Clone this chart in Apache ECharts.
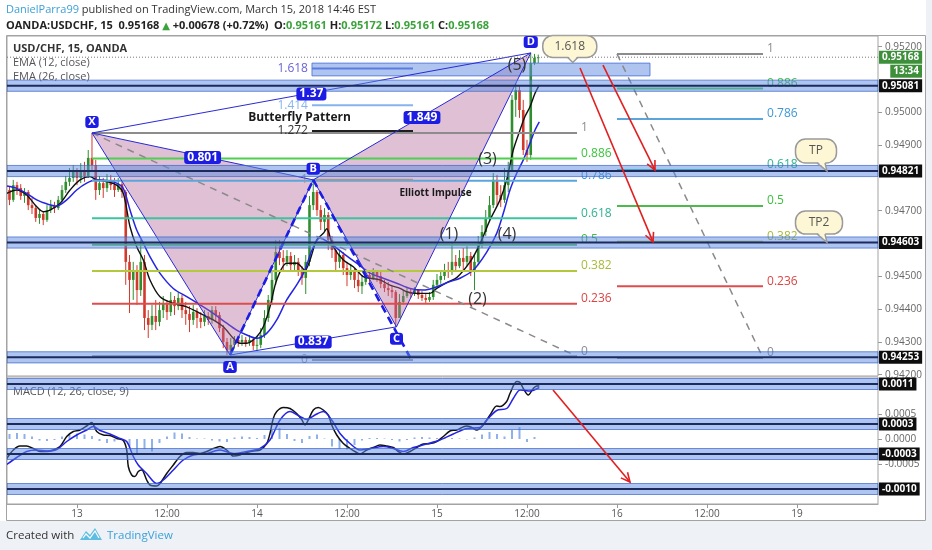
<!DOCTYPE html>
<html><head><meta charset="utf-8">
<script src="https://cdn.jsdelivr.net/npm/echarts@6/dist/echarts.min.js"></script>
<style>html,body{margin:0;padding:0;background:#fff;}#c{width:932px;height:550px;}</style>
</head><body><div id="c"></div>
<script>
// ================= DATA =================
// time unit: hours from 13 Mar 00:00 (weekend collapsed); 30-min bars
const barStartHour = -9;
const barStepHours = 0.5;
const firstOpen = 0.94763;
const closes = [0.94733,0.94778,0.94769,0.94745,0.94757,0.94717,0.94708,0.94678,0.94690,0.94672,
0.94702,0.94714,0.94708,0.94733,0.94763,0.94788,0.94800,0.94818,0.94800,0.94824,
0.94806,0.94861,0.94839,0.94763,0.94784,0.94769,0.94794,0.94778,0.94763,0.94781,
0.94757,0.94544,0.94489,0.94519,0.94458,0.94544,0.94373,0.94352,0.94379,0.94361,
0.94397,0.94416,0.94391,0.94428,0.94409,0.94434,0.94397,0.94385,0.94367,0.94391,
0.94373,0.94361,0.94379,0.94367,0.94397,0.94382,0.94342,0.94300,0.94275,0.94291,
0.94306,0.94300,0.94306,0.94297,0.94306,0.94288,0.94291,0.94321,0.94373,0.94428,
0.94489,0.94574,0.94556,0.94544,0.94562,0.94534,0.94544,0.94519,0.94495,0.94544,
0.94717,0.94757,0.94702,0.94666,0.94687,0.94611,0.94580,0.94544,0.94565,0.94525,
0.94504,0.94519,0.94489,0.94470,0.94483,0.94504,0.94495,0.94513,0.94501,0.94477,
0.94464,0.94458,0.94452,0.94373,0.94422,0.94440,0.94452,0.94446,0.94458,0.94443,
0.94434,0.94428,0.94437,0.94474,0.94489,0.94501,0.94519,0.94513,0.94544,0.94531,
0.94556,0.94544,0.94562,0.94519,0.94544,0.94595,0.94635,0.94678,0.94717,0.94794,
0.94748,0.94733,0.94778,0.94824,0.95038,0.95068,0.95007,0.94885,0.94870,0.95150,
0.95166,0.95168];
const highs = [0.94775,0.94794,0.94788,0.94781,0.94769,0.94763,0.94739,0.94717,0.94702,0.94696,
0.94717,0.94733,0.94727,0.94745,0.94778,0.94806,0.94830,0.94839,0.94830,0.94845,
0.94849,0.94885,0.94937,0.94855,0.94806,0.94800,0.94812,0.94809,0.94800,0.94800,
0.94788,0.94763,0.94565,0.94544,0.94534,0.94611,0.94565,0.94397,0.94413,0.94428,
0.94422,0.94440,0.94428,0.94452,0.94440,0.94452,0.94443,0.94422,0.94409,0.94413,
0.94403,0.94391,0.94397,0.94391,0.94409,0.94409,0.94391,0.94352,0.94312,0.94312,
0.94318,0.94315,0.94321,0.94315,0.94321,0.94312,0.94318,0.94342,0.94397,0.94443,
0.94519,0.94611,0.94611,0.94580,0.94580,0.94574,0.94565,0.94556,0.94531,0.94565,
0.94745,0.94794,0.94763,0.94717,0.94708,0.94696,0.94623,0.94586,0.94580,0.94574,
0.94544,0.94538,0.94525,0.94510,0.94504,0.94513,0.94519,0.94525,0.94519,0.94513,
0.94489,0.94483,0.94470,0.94458,0.94446,0.94458,0.94464,0.94464,0.94467,0.94461,
0.94455,0.94449,0.94452,0.94489,0.94507,0.94519,0.94538,0.94544,0.94605,0.94565,
0.94580,0.94586,0.94592,0.94574,0.94565,0.94623,0.94656,0.94702,0.94745,0.94815,
0.94809,0.94778,0.94830,0.94849,0.95053,0.95089,0.95083,0.95038,0.94916,0.95181,
0.95178,0.95176];
const lows = [0.94717,0.94727,0.94748,0.94733,0.94724,0.94702,0.94690,0.94666,0.94660,0.94656,
0.94666,0.94693,0.94693,0.94702,0.94727,0.94754,0.94775,0.94788,0.94778,0.94784,
0.94788,0.94800,0.94824,0.94733,0.94748,0.94739,0.94757,0.94763,0.94742,0.94757,
0.94739,0.94474,0.94388,0.94428,0.94413,0.94440,0.94336,0.94312,0.94336,0.94336,
0.94348,0.94373,0.94367,0.94379,0.94382,0.94397,0.94373,0.94352,0.94330,0.94352,
0.94342,0.94342,0.94348,0.94352,0.94355,0.94361,0.94330,0.94281,0.94260,0.94260,
0.94281,0.94285,0.94288,0.94285,0.94288,0.94275,0.94272,0.94281,0.94312,0.94361,
0.94413,0.94474,0.94534,0.94519,0.94531,0.94519,0.94519,0.94501,0.94474,0.94446,
0.94531,0.94702,0.94684,0.94641,0.94635,0.94580,0.94556,0.94519,0.94525,0.94504,
0.94470,0.94489,0.94464,0.94452,0.94446,0.94474,0.94480,0.94489,0.94483,0.94464,
0.94452,0.94440,0.94434,0.94345,0.94373,0.94413,0.94434,0.94434,0.94440,0.94431,
0.94425,0.94419,0.94422,0.94428,0.94464,0.94477,0.94489,0.94495,0.94504,0.94513,
0.94525,0.94519,0.94531,0.94501,0.94458,0.94534,0.94586,0.94623,0.94666,0.94708,
0.94717,0.94711,0.94724,0.94757,0.94818,0.94986,0.94983,0.94870,0.94849,0.94855,
0.95144,0.95150];

const ema12 = [[-9.37,0.94753],[-8.04,0.94763],[-6.71,0.94748],[-5.37,0.94712],[-4.49,0.94697],[-3.6,0.94702],
[-2.27,0.94722],[-0.93,0.94763],[0.4,0.94794],[1.73,0.94804],[2.63,0.94794],[3.96,0.94789],[5.29,0.94778],
[6.17,0.94753],[7.07,0.94651],[7.96,0.9459],[8.84,0.9455],[9.73,0.94489],[11.07,0.94438],[12.84,0.94418],
[14.63,0.94407],[16.4,0.94387],[18.17,0.94367],[19.51,0.94346],[20.84,0.94311],[21.73,0.94296],[22.63,0.94296],
[23.96,0.94316],[24.84,0.94346],[25.73,0.94407],[26.63,0.94489],[27.96,0.9454],[29.29,0.9454],[30.4,0.94519],
[31.07,0.9455],[31.96,0.94611],[32.84,0.94631],[33.29,0.94645],[34.17,0.9459],[35.51,0.9455],[36.84,0.94529],
[38.17,0.94499],[39.07,0.94494],[40.4,0.94489],[41.73,0.94473],[43.07,0.94463],[43.96,0.94453],[45.29,0.94448],
[47.07,0.94448],[47.96,0.94463],[49.29,0.94481],[50.63,0.94496],[52.4,0.94544],[53.73,0.94599],[55.07,0.94672],
[56.4,0.94733],[57.29,0.94794],[58.17,0.94885],[59.07,0.94946],[59.73,0.94987],[60.4,0.95017],[61.07,0.95058],[61.64,0.95083]];
const ema26 = [[-9.37,0.94775],[-8.04,0.94768],[-6.71,0.94753],[-5.37,0.94733],[-4.04,0.94721],[-2.71,0.94714],
[-1.37,0.94733],[-0.04,0.94763],[1.29,0.94784],[2.63,0.94794],[3.96,0.94792],[5.29,0.94784],[6.17,0.94768],
[7.07,0.94702],[7.96,0.94641],[8.84,0.94601],[9.73,0.9456],[11.07,0.94509],[12.84,0.94463],[14.63,0.94438],
[16.4,0.94413],[18.17,0.94387],[19.96,0.94357],[21.29,0.94336],[22.63,0.94321],[23.96,0.94311],[25.29,0.94326],
[26.63,0.94367],[27.96,0.94428],[29.29,0.94474],[30.4,0.94519],[31.33,0.9458],[32.4,0.94617],[33.73,0.94601],
[35.51,0.9457],[37.29,0.9454],[39.07,0.9451],[40.84,0.94494],[42.63,0.94479],[44.4,0.94463],[46.17,0.94458],
[47.96,0.94468],[49.73,0.94484],[51.07,0.94494],[52.84,0.94519],[54.63,0.94574],[55.96,0.94631],[56.84,0.94692],
[57.73,0.94763],[58.63,0.94814],[59.51,0.94855],[60.4,0.94906],[61.07,0.94946],[61.64,0.94971]];

const macdLine = [[-9.37,-0.00039],[-8.49,-0.00022],[-7.6,-0.00014],[-6.71,-0.00014],[-5.83,-0.00019],[-4.93,-0.00025],
[-4.04,-0.00025],[-3.16,-0.00022],[-2.27,-0.00015],[-1.37,0.00005],[-0.49,0.00015],[0.4,0.00018],[1.29,0.00026],
[1.96,0.00033],[2.63,0.00015],[3.51,0.00008],[4.4,0.00007],[5.29,0.00001],[6.17,-0.00003],[6.63,-0.00022],
[6.84,-0.00055],[7.29,-0.00072],[7.73,-0.00075],[8.17,-0.00065],[8.63,-0.00062],[9.29,-0.00082],[9.73,-0.00092],
[10.63,-0.00094],[11.07,-0.00089],[11.96,-0.00069],[12.84,-0.00052],[13.73,-0.00035],[14.63,-0.00027],[15.51,-0.00027],
[16.4,-0.00029],[17.29,-0.00025],[18.17,-0.00019],[19.07,-0.00015],[19.96,-0.00022],[20.84,-0.00034],[21.73,-0.00032],
[22.63,-0.00027],[23.51,-0.00024],[24.4,-0.00022],[25.29,-0.00009],[25.73,0.00011],[26.17,0.00041],[26.63,0.00055],
[27.51,0.00063],[28.4,0.00061],[29.29,0.00051],[29.96,0.00039],[30.4,0.00028],[30.84,0.00038],[31.51,0.00058],
[32.17,0.00063],[32.84,0.00058],[33.51,0.00048],[33.96,0.00028],[34.63,0.00008],[35.51,-0.00009],[36.4,-0.00019],
[37.29,-0.00027],[37.73,-0.0003],[38.63,-0.00022],[39.51,-0.00017],[40.4,-0.00012],[41.29,-0.00014],[42.17,-0.00017],
[42.84,-0.00025],[43.51,-0.0003],[44.4,-0.00025],[45.29,-0.00017],[46.17,-0.0001],[47.07,-0.00009],[47.96,-0.00005],
[48.84,0.00005],[49.73,0.00016],[50.63,0.00018],[51.96,0.00026],[52.63,0.00023],[53.29,0.00018],[54.17,0.00028],
[55.07,0.00048],[55.96,0.00066],[56.4,0.00065],[57.29,0.00075],[57.73,0.00091],[58.63,0.00115],[59.07,0.00113],
[59.51,0.00101],[60.17,0.00088],[60.84,0.00101],[61.29,0.00106],[61.64,0.00106]];
const signalLine = [[-9.37,-0.00051],[-8.04,-0.00037],[-6.71,-0.00025],[-5.37,-0.00022],[-4.04,-0.00024],[-2.71,-0.00021],
[-1.37,-0.00005],[-0.04,0.00008],[1.29,0.00018],[2.17,0.00025],[3.07,0.00017],[4.4,0.0001],[5.73,0.00001],[6.63,-0.00005],
[7.51,-0.00035],[8.17,-0.00052],[9.29,-0.00069],[10.63,-0.00089],[11.51,-0.00082],[12.84,-0.00062],[14.17,-0.00042],
[15.51,-0.00032],[17.29,-0.00029],[19.07,-0.00022],[20.84,-0.00029],[22.63,-0.00025],[24.4,-0.00019],[25.73,-0.00002],
[27.07,0.00038],[28.4,0.00055],[29.73,0.00045],[30.63,0.00039],[31.73,0.00048],[32.84,0.00055],[33.96,0.00038],
[35.07,0.00011],[36.4,-0.00009],[37.73,-0.00022],[39.07,-0.00019],[40.84,-0.00015],[42.17,-0.00019],[43.51,-0.00025],
[44.84,-0.00017],[46.63,-0.0001],[48.4,-0.00002],[50.17,0.0001],[51.96,0.00021],[53.73,0.00023],[54.63,0.00038],
[55.96,0.00057],[57.29,0.00061],[58.17,0.00081],[59.07,0.00098],[59.73,0.00097],[60.4,0.00096],[61.64,0.00103]];
const histStartHour = -9;   // hourly histogram bars
const histogram = [0.0001,0.00012,0.0001,0.00005,-0.00003,-0.00004,-0.00002,0.00005,0.00009,0.00011,
0.00009,0.00006,-0.00004,-0.00008,-0.00005,-0.00002,-0.00015,-0.0003,-0.0002,-0.00025,
-0.00008,0.00005,0.00013,0.00011,0.00004,0.00001,0.00001,-0.00003,-0.00005,-0.00006,
0.00003,0.00005,0.00004,0.00002,0.00008,0.00018,0.00022,0.0001,-0.00004,-0.00008,
0.00006,0.00009,0.00001,-0.00015,-0.0002,-0.00021,-0.00012,-0.00003,0.00002,0.00002,
0.00001,-0.00002,-0.00005,-0.00002,0.00003,0.00004,0.00003,0.00002,0.00002,0.00002,
0.00001,-0.00001,0.00003,0.00009,0.00014,0.0001,0.00005,0.00018,0.00024,-0.00006,0.00004];

const tickHours = [0,12,24,36,48,60,72,84,96];
const tickLabels = ['13','12:00','14','12:00','15','12:00','16','12:00','19'];
const priceTicks = [0.942,0.943,0.944,0.945,0.947,0.949,0.950,0.952];
const macdTicks = [-0.0005,0,0.0005];

const srLevels = [0.95081,0.94821,0.94603,0.94253];
const macdLevels = [0.0011,0.0003,-0.0003,-0.0010];

const lastBar = [0.95161,0.95172,0.95161,0.95168];   // O H L C
const changeText = '+0.00678 (+0.72%)';
const countdown = '13:34';

const patternNames = ['X','A','B','C','D'];
const patternHours = [2.0,20.4,31.5,42.6,60.5];
const patternPrices = [0.94937,0.94260,0.94794,0.94346,0.95181];
const ratioLegs = [[0,2],[1,3],[2,4],[0,4]];
const ratioTexts = ['0.801','0.837','1.849','1.37'];
const bcExtension = [44.6,0.94245];

const fibRatios = [1,0.886,0.786,0.618,0.5,0.382,0.236,0];
const fib1Hours = [2.0,66.67];   const fib1Prices = [0.94937,0.94256];   // ratio 1, ratio 0
const fib2Hours = [72,91.47];    const fib2Prices = [0.95178,0.94251];
const extRatios = [1.618,1.414,1.272,1,0];
const extHours = [31.33,44.8];   const extPrices = [0.94794,0.94245];
const extZone = [31.33,0.95150,76.4,0.95111];

const waveTexts = ['(1)','(2)','(3)','(4)','(5)'];
const waveHours = [49.6,53.4,54.73,57.33,58.67];
const wavePrices = [0.94629,0.94428,0.94856,0.94627,0.95143];
const noteTexts = ['Butterfly Pattern','Elliott Impulse'];
const noteHours = [29.67,47.8];
const notePrices = [0.94985,0.94754];

const arrowsMain = [[67.07,0.95135,76.8,0.94605],[70.13,0.95144,77.07,0.94824]];
const arrowsMacd = [[63.47,0.00098,73.73,-0.00086]];

const calloutTexts = ['1.618','TP','TP2'];
const calloutHours = [66.1,100,100];
const calloutPrices = [0.95152,0.94821,0.94603];

// ================= LAYOUT / STYLE =================
const X_MIN = -9.333, X_MAX = 106.8;
const Y_MIN = 0.941961, Y_MAX = 0.952326;
const M_MIN = -0.0013, M_MAX = 0.00124;
const FONT = 'Open Sans, DejaVu Sans, sans-serif';
const BLUE = '#1c1ce4';
const UP = '#2f8f2f', DOWN = '#d2392b';

const candleData = closes.map((c,i)=>{
  const o = i===0 ? firstOpen : closes[i-1];
  return [barStartHour + i*barStepHours, o, c, Math.min(lows[i],o,c), Math.max(highs[i],o,c)];
});

function custom(xi, yi, z, data, encode, renderItem){
  return {type:'custom', xAxisIndex:xi, yAxisIndex:yi, z, data, encode, renderItem, silent:true, clip:false, animation:false};
}
function P(api,a,b){ return api.coord([a,b]); }
function segRender(style){
  return (p,api)=>{ const a=P(api,api.value(0),api.value(1)), b=P(api,api.value(2),api.value(3));
    return {type:'line', shape:{x1:a[0],y1:a[1],x2:b[0],y2:b[1]}, style}; };
}
const segEnc = {x:[0,2], y:[1,3]};

const fibColor = {'1':'#8c8c8c','0.886':'#4fcf4f','0.786':'#5aa6dc','0.618':'#3cc49e','0.5':'#4cbb4c','0.382':'#b3c83c','0.236':'#e04c4c','0':'#8c8c8c'};
const fibLabel = {'1':'#8c8c8c','0.886':'#3cc43c','0.786':'#3f97d6','0.618':'#2fb390','0.5':'#3cbf3c','0.382':'#aab93a','0.236':'#dc4444','0':'#8c8c8c'};
const extColor = {'1.618':'#5b7de0','1.414':'#86b4ee','1.272':'#1e1e1e','1':'#9a9a9a','0':'#9a9a9a'};
const extLabel = {'1.618':'#6a62d6','1.414':'#86b4ee','1.272':'#333','1':'#999','0':'#999'};

function fibSeries(ratios, hours, prices, side, colMap, labMap){
  const data = ratios.map(r=>[hours[0], prices[1] + r*(prices[0]-prices[1]), hours[1], r]);
  return custom(0,0,5,data,{x:[0,2],y:1},(p,api)=>{
    const v=api.value(1), r=api.value(3), key=String(r);
    const a=P(api,api.value(0),v), b=P(api,api.value(2),v);
    const txt = side==='right'
      ? {type:'text', style:{text:key, x:b[0]+4, y:b[1]-5, align:'left', verticalAlign:'middle', fill:labMap[key], fontSize:12, fontFamily:FONT}}
      : {type:'text', style:{text:key, x:a[0]-4, y:a[1], align:'right', verticalAlign:'middle', fill:labMap[key], fontSize:12, fontFamily:FONT}};
    return {type:'group', children:[
      {type:'line', shape:{x1:a[0],y1:a[1],x2:b[0],y2:b[1]}, style:{stroke:colMap[key], lineWidth:2}}, txt]};
  });
}

function bandSeries(levels, xi, yi, half, digits){
  return custom(xi, yi, 7, levels.map(v=>[X_MIN, v]), {x:0,y:1}, (p,api)=>{
    const cs=p.coordSys, v=api.value(1);
    const yT=P(api,X_MIN,v+half)[1], yB=P(api,X_MIN,v-half)[1], y=P(api,X_MIN,v)[1];
    return {type:'group', children:[
      {type:'rect', shape:{x:cs.x, y:yT, width:cs.width, height:yB-yT}, style:{fill:'rgba(92,140,226,0.5)', stroke:'rgba(60,100,200,0.7)', lineWidth:1}},
      {type:'line', shape:{x1:cs.x, y1:y, x2:cs.x+cs.width, y2:y}, style:{stroke:'#1d2b5c', lineWidth:2}},
      {type:'text', style:{text:v.toFixed(digits), x:cs.x+cs.width+1, y:y, align:'left', verticalAlign:'middle', fill:'#fff', backgroundColor:'#0d0d0d', padding:[2,3,1,3], fontSize:10, fontWeight:'bold', fontFamily:FONT}}
    ]};
  });
}

function arrowRender(p,api){
  const a=P(api,api.value(0),api.value(1)), b=P(api,api.value(2),api.value(3));
  const ang=Math.atan2(b[1]-a[1], b[0]-a[0]), L=10, w=0.45;
  const h1=[b[0]-L*Math.cos(ang-w), b[1]-L*Math.sin(ang-w)], h2=[b[0]-L*Math.cos(ang+w), b[1]-L*Math.sin(ang+w)];
  const st={stroke:'#e21f1f', lineWidth:1.6, fill:'none'};
  return {type:'group', children:[
    {type:'line', shape:{x1:a[0],y1:a[1],x2:b[0],y2:b[1]}, style:st},
    {type:'polyline', shape:{points:[h1,b,h2]}, style:st}]};
}

const calloutGeom = [[-3,-16,54,22,-5,5],[-11,-20,41,24,-10,-2],[-8,-20,47,23,-10,-2]];
const pointAbove = {X:true, B:true, D:true};

const hdr1 = '{u|DanielParra99}{t| published on TradingView.com, March 15, 2018 14:46 EST}';
const hdr2 = '{b|OANDA:USDCHF, 15  ' + lastBar[3].toFixed(5) + ' }{g|\u25B2}{b| ' + changeText + '  O:}{v|' + lastBar[0].toFixed(5) +
  '}{b| H:}{v|' + lastBar[1].toFixed(5) + '}{b| L:}{v|' + lastBar[2].toFixed(5) + '}{b| C:}{v|' + lastBar[3].toFixed(5) + '}';

function txt(left, top, text, style){
  return {left, top, text, padding:0, textStyle:Object.assign({fontFamily:FONT, fontSize:11, lineHeight:14, color:'#333', fontWeight:'normal'}, style)};
}

const option = {
  animation:false,
  backgroundColor:'#ffffff',
  textStyle:{fontFamily:FONT},
  title:[
    txt(6,3,hdr1,{rich:{u:{color:'#3ca0d8',fontSize:11,fontFamily:FONT},t:{color:'#333',fontSize:11,fontFamily:FONT}}}),
    txt(6,19,hdr2,{rich:{b:{color:'#222',fontSize:11,fontWeight:'bold',fontFamily:FONT},g:{color:'#3aa33a',fontSize:10,fontFamily:FONT},v:{color:'#3aa33a',fontSize:11,fontWeight:'bold',fontFamily:FONT}}}),
    txt(13,42,'USD/CHF, 15, OANDA',{fontWeight:'bold',color:'#333'}),
    txt(13,56,'EMA (12, close)',{color:'#555'}),
    txt(13,69.5,'EMA (26, close)',{color:'#555'}),
    txt(13,385,'MACD (12, 26, close, 9)',{color:'#555'}),
    txt(6,529,'Created with',{fontSize:11.5,color:'#333'}),
    txt(107,529,'TradingView',{fontSize:11.5,color:'#3ba1d8'})
  ],
  graphic:[
    {type:'rect', z:-5, shape:{x:0,y:521,width:932,height:29}, style:{fill:'#eef1f6'}},
    {type:'rect', z:-5, shape:{x:926,y:0,width:6,height:550}, style:{fill:'#eef1f6'}},
    {type:'rect', z:20, shape:{x:6.5,y:35.5,width:919,height:485}, style:{fill:'none',stroke:'#a3a3a3',lineWidth:1}},
    {type:'polygon', z:5, shape:{points:[[80,540],[86,531],[90,535],[95,528],[102,540]]}, style:{fill:'#5fbde3'}},
    {type:'polyline', z:6, shape:{points:[[83,538],[86,534],[90,538],[95,531],[99,538]]}, style:{stroke:'#ffffff',lineWidth:1.2,fill:'none'}}
  ],
  grid:[
    {left:7, top:36, width:871, height:340, show:true, borderColor:'#a3a3a3', borderWidth:1, backgroundColor:'#fff'},
    {left:7, top:377, width:871, height:127, show:true, borderColor:'#a3a3a3', borderWidth:1, backgroundColor:'#fff'}
  ],
  xAxis:[
    {gridIndex:0, type:'value', min:X_MIN, max:X_MAX, show:false},
    {gridIndex:1, type:'value', min:X_MIN, max:X_MAX, splitLine:{show:false},
     axisLine:{show:true, onZero:false, lineStyle:{color:'#a3a3a3'}},
     axisTick:{show:true, customValues:tickHours, length:4, lineStyle:{color:'#999'}},
     axisLabel:{customValues:tickHours, formatter:v=>{const k=tickHours.indexOf(v); return k<0?'':tickLabels[k];}, color:'#555', fontSize:10, fontFamily:FONT, margin:5}}
  ],
  yAxis:[
    {gridIndex:0, type:'value', position:'right', min:Y_MIN, max:Y_MAX, splitLine:{show:false},
     axisLine:{show:false, onZero:false},
     axisTick:{show:true, customValues:priceTicks, length:4, lineStyle:{color:'#999'}},
     axisLabel:{customValues:priceTicks, formatter:v=>v.toFixed(5), color:'#666', fontSize:10, fontFamily:FONT, margin:7}},
    {gridIndex:1, type:'value', position:'right', min:M_MIN, max:M_MAX, splitLine:{show:false},
     axisLine:{show:false, onZero:false},
     axisTick:{show:true, customValues:macdTicks, length:4, lineStyle:{color:'#999'}},
     axisLabel:{customValues:macdTicks, formatter:v=>v.toFixed(4), color:'#666', fontSize:10, fontFamily:FONT, margin:7}}
  ],
  series:[
    // candles (wick + body) drawn through the axes
    custom(0,0,2,candleData,{x:0,y:[1,2,3,4]},(p,api)=>{
      const x=api.value(0), o=api.value(1), c=api.value(2), l=api.value(3), h=api.value(4);
      const pO=P(api,x,o), pC=P(api,x,c), pL=P(api,x,l), pH=P(api,x,h);
      const col = c>=o ? UP : DOWN, w=2.6, top=Math.min(pO[1],pC[1]), ht=Math.max(1,Math.abs(pO[1]-pC[1]));
      return {type:'group', children:[
        {type:'line', shape:{x1:pH[0],y1:pH[1],x2:pL[0],y2:pL[1]}, style:{stroke:col, lineWidth:1}},
        {type:'rect', shape:{x:pO[0]-w/2, y:top, width:w, height:ht}, style:{fill:col}}]};
    }),
    {type:'line', xAxisIndex:0, yAxisIndex:0, data:ema12, symbol:'none', smooth:0.3, lineStyle:{color:'#111', width:1.4}, z:3, silent:true},
    {type:'line', xAxisIndex:0, yAxisIndex:0, data:ema26, symbol:'none', smooth:0.3, lineStyle:{color:'#2424e4', width:1.5}, z:3, silent:true},
    // MACD pane
    custom(1,1,2,histogram.map((v,i)=>[histStartHour+i, v]),{x:0,y:1},(p,api)=>{
      const a=P(api,api.value(0),0), b=P(api,api.value(0),api.value(1));
      return {type:'rect', shape:{x:a[0]-1, y:Math.min(a[1],b[1]), width:2, height:Math.abs(b[1]-a[1])}, style:{fill:'#8fb1ea'}};
    }),
    {type:'line', xAxisIndex:1, yAxisIndex:1, data:macdLine, symbol:'none', smooth:0.3, lineStyle:{color:'#111', width:1.5}, z:3, silent:true},
    {type:'line', xAxisIndex:1, yAxisIndex:1, data:signalLine, symbol:'none', smooth:0.3, lineStyle:{color:'#2424e4', width:1.5}, z:3, silent:true},
    // butterfly triangles
    custom(0,0,4,[[0,1,2],[2,3,4]].map(t=>t.flatMap(k=>[patternHours[k],patternPrices[k]])),{x:[0,2,4],y:[1,3,5]},(p,api)=>({
      type:'polygon', shape:{points:[0,1,2].map(j=>P(api,api.value(2*j),api.value(2*j+1)))}, style:{fill:'rgba(178,105,155,0.42)'}})),
    // fib tools
    fibSeries(fibRatios, fib1Hours, fib1Prices, 'right', fibColor, fibLabel),
    fibSeries(fibRatios, fib2Hours, fib2Prices, 'right', fibColor, fibLabel),
    custom(0,0,5,[extZone],segEnc,(p,api)=>{const a=P(api,api.value(0),api.value(1)), b=P(api,api.value(2),api.value(3));
      return {type:'rect', shape:{x:a[0],y:a[1],width:b[0]-a[0],height:b[1]-a[1]}, style:{fill:'rgba(95,140,226,0.5)', stroke:'rgba(70,110,210,0.8)', lineWidth:1}};}),
    fibSeries(extRatios, extHours, extPrices, 'left', extColor, extLabel),
    custom(0,0,5,[[fib1Hours[0],fib1Prices[0],fib1Hours[1],fib1Prices[1]],[fib2Hours[0],fib2Prices[0],fib2Hours[1],fib2Prices[1]]],segEnc,
      segRender({stroke:'#8a8a8a', lineWidth:1.5, lineDash:[7,6]})),
    // pattern edges
    custom(0,0,6,[[0,1],[1,2],[0,2],[2,3],[3,4],[2,4],[0,4],[1,3]].map(([a,b])=>[patternHours[a],patternPrices[a],patternHours[b],patternPrices[b]]),segEnc,
      segRender({stroke:'#2a2ad6', lineWidth:1})),
    custom(0,0,6,[[patternHours[1],patternPrices[1],patternHours[2],patternPrices[2]],[patternHours[2],patternPrices[2],bcExtension[0],bcExtension[1]]],segEnc,
      segRender({stroke:BLUE, lineWidth:2.6, lineDash:[8,5]})),
    // S/R bands
    bandSeries(srLevels,0,0,0.00017,5),
    bandSeries(macdLevels,1,1,0.00011,4),
    // current price
    custom(0,0,8,[[X_MIN,lastBar[3]]],{x:0,y:1},(p,api)=>{const cs=p.coordSys, y=P(api,X_MIN,api.value(1))[1];
      return {type:'group', children:[
        {type:'line', shape:{x1:cs.x,y1:y,x2:cs.x+cs.width,y2:y}, style:{stroke:'#777', lineWidth:1, lineDash:[1,2]}},
        {type:'text', style:{text:api.value(1).toFixed(5), x:cs.x+cs.width+1, y:y, align:'left', verticalAlign:'middle', fill:'#fff', backgroundColor:'#3d8f3a', padding:[2,3,1,3], fontSize:10, fontWeight:'bold', fontFamily:FONT}},
        {type:'text', style:{text:countdown, x:cs.x+cs.width+44, y:y+14, align:'right', verticalAlign:'middle', fill:'#fff', backgroundColor:'#3d8f3a', padding:[2,3,1,3], fontSize:10, fontWeight:'bold', fontFamily:FONT}}
      ]};}),
    // arrows
    custom(0,0,8,arrowsMain,segEnc,arrowRender),
    custom(1,1,8,arrowsMacd,segEnc,arrowRender),
    // ratio labels
    custom(0,0,9,ratioLegs.map(([a,b])=>[patternHours[a],patternPrices[a],patternHours[b],patternPrices[b]]),segEnc,(p,api)=>{
      const a=P(api,api.value(0),api.value(1)), b=P(api,api.value(2),api.value(3));
      return {type:'text', style:{text:ratioTexts[p.dataIndex], x:(a[0]+b[0])/2, y:(a[1]+b[1])/2+1, align:'center', verticalAlign:'middle', fill:'#fff', backgroundColor:BLUE, padding:[1,3,0,3], borderRadius:3, fontSize:12, fontWeight:'bold', fontFamily:FONT}};}),
    // point labels
    custom(0,0,9,patternNames.map((n,i)=>[patternHours[i],patternPrices[i]]),{x:0,y:1},(p,api)=>{
      const c=P(api,api.value(0),api.value(1)), n=patternNames[p.dataIndex], up=pointAbove[n];
      return {type:'text', style:{text:n, x:c[0], y:up?c[1]-11:c[1]+12, align:'center', verticalAlign:'middle', fill:'#fff', backgroundColor:BLUE, padding:[1,3,0,3], borderRadius:3, fontSize:11, fontWeight:'bold', fontFamily:FONT}};}),
    // wave labels
    custom(0,0,9,waveHours.map((h,i)=>[h,wavePrices[i]]),{x:0,y:1},(p,api)=>{const c=P(api,api.value(0),api.value(1));
      return {type:'text', style:{text:waveTexts[p.dataIndex], x:c[0], y:c[1], align:'center', verticalAlign:'middle', fill:'#333', fontSize:16, fontFamily:FONT}};}),
    // notes
    custom(0,0,9,noteHours.map((h,i)=>[h,notePrices[i]]),{x:0,y:1},(p,api)=>{const c=P(api,api.value(0),api.value(1));
      return {type:'text', style:{text:noteTexts[p.dataIndex], x:c[0], y:c[1], align:'center', verticalAlign:'middle', fill:'#1a1a1a', fontSize:p.dataIndex===0?12:10, fontWeight:'bold', fontFamily:FONT}};}),
    // callouts
    custom(0,0,10,calloutHours.map((h,i)=>[h,calloutPrices[i]]),{x:0,y:1},(p,api)=>{
      const i=p.dataIndex, t=P(api,api.value(0),api.value(1)), g=calloutGeom[i];
      const cx=t[0]+g[0], cy=t[1]+g[1], w=g[2], h=g[3], x0=cx-w/2, y0=cy-h/2, yb=y0+h, b1=t[0]+g[4], b2=t[0]+g[5];
      return {type:'group', children:[
        {type:'rect', shape:{x:x0,y:y0,width:w,height:h,r:10}, style:{fill:'#fdf7d6', stroke:'#9a9a9a', lineWidth:1.5}},
        {type:'polygon', shape:{points:[[b1,yb-2],[t[0],t[1]],[b2,yb-2]]}, style:{fill:'#fdf7d6'}},
        {type:'polyline', shape:{points:[[b1,yb],[t[0],t[1]],[b2,yb]]}, style:{stroke:'#9a9a9a', lineWidth:1.5, fill:'none'}},
        {type:'text', style:{text:calloutTexts[i], x:cx, y:cy, align:'center', verticalAlign:'middle', fill:'#555', fontSize:12, fontFamily:FONT}}
      ]};})
  ]
};
const chart = echarts.init(document.getElementById('c'), null, {renderer:'canvas'});
chart.setOption(option);
</script></body></html>
